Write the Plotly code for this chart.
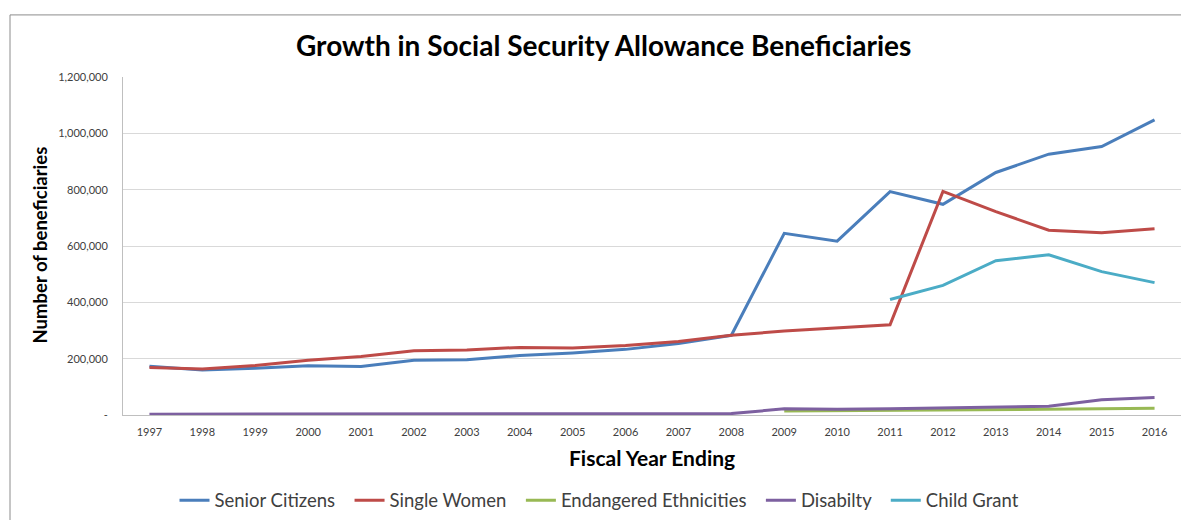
import plotly.graph_objects as go

years = list(range(1997, 2017))
senior_citizens = [173000, 160000, 166000, 175000, 172000, 194000, 196000, 211000, 220000, 233000,
                   254000, 283000, 645000, 617000, 793000, 748000, 861000, 926000, 953000, 1048000]
single_women = [169000, 163000, 176000, 194000, 208000, 228000, 231000, 240000, 238000, 247000,
                261000, 283000, 298000, 308000, 320000, 794000, 722000, 656000, 647000, 661000]
endangered_years = list(range(2009, 2017))
endangered_ethnicities = [14000, 15000, 17000, 18000, 19000, 20000, 22000, 24000]
disability = [3000, 3000, 3000, 3000, 3000, 3000, 3000, 3000, 3000, 4000,
              5000, 5000, 22000, 20000, 22000, 25000, 27000, 31000, 54000, 62000]
child_years = list(range(2011, 2017))
child_grant = [410000, 460000, 548000, 569000, 509000, 470000]

y_tickvals = [0, 200000, 400000, 600000, 800000, 1000000, 1200000]
y_ticktext = ["-", "200,000", "400,000", "600,000", "800,000", "1,000,000", "1,200,000"]

FONT = "Lato, Carlito, Calibri, sans-serif"
PAD = "\u00a0\u00a0"

fig = go.Figure()
series = [
    ("Senior Citizens", years, senior_citizens, "#4A7EBB"),
    ("Single Women", years, single_women, "#BE4B48"),
    ("Endangered Ethnicities", endangered_years, endangered_ethnicities, "#98B954"),
    ("Disabilty", years, disability, "#7D60A0"),
    ("Child Grant", child_years, child_grant, "#4BACC6"),
]
for name, xs, ys, color in series:
    fig.add_trace(go.Scatter(x=xs, y=ys, name=name + PAD, mode="lines",
                             line=dict(color=color, width=3)))

W, H = 1181, 520
L, T, R = 123, 77, 0
BOTTOM = 420
B = H - BOTTOM
pw = W - L - R
ph = H - T - B


def px(x):
    return (x - L) / pw


def py(y):
    return (BOTTOM - y) / ph


fig.update_layout(
    width=W, height=H,
    margin=dict(l=L, r=R, t=T, b=B, pad=0),
    paper_bgcolor="white", plot_bgcolor="white",
    font=dict(family=FONT, color="#404040"),
    showlegend=True,
    legend=dict(orientation="h", x=px(604), xanchor="center",
                y=py(507), yanchor="middle",
                font=dict(size=18.5, color="#404040", family=FONT),
                itemwidth=30, traceorder="normal"),
    xaxis=dict(range=[1996.5, 2016.5], tickmode="array", tickvals=years,
               ticktext=[str(y) for y in years], showgrid=False,
               showline=True, linecolor="#BFBFBF", linewidth=1,
               tickfont=dict(size=11, color="#404040", family=FONT),
               ticks="", ticklabelstandoff=7, zeroline=False),
    yaxis=dict(range=[0, 1200000], tickmode="array", tickvals=y_tickvals,
               ticktext=y_ticktext, showgrid=True, gridcolor="#D9D9D9", gridwidth=1,
               showline=True, linecolor="#BFBFBF", linewidth=1,
               tickfont=dict(size=11, color="#404040", family=FONT),
               ticks="", ticklabelstandoff=12, zeroline=False),
)

fig.add_annotation(text="<b>Growth in Social Security Allowance Beneficiaries</b>",
                   xref="paper", yref="paper", x=px(603), y=py(45),
                   xanchor="center", yanchor="middle", showarrow=False,
                   font=dict(size=28, color="#000000", family=FONT))
fig.add_annotation(text="<b>Fiscal Year Ending</b>",
                   xref="paper", yref="paper", x=px(652), y=py(463),
                   xanchor="center", yanchor="middle", showarrow=False,
                   font=dict(size=21, color="#000000", family=FONT))
fig.add_annotation(text="<b>Number of beneficiaries</b>",
                   xref="paper", yref="paper", x=px(40), y=py(248),
                   xanchor="center", yanchor="middle", showarrow=False, textangle=-90,
                   font=dict(size=18.5, color="#000000", family=FONT))

fig.add_shape(type="rect", xref="paper", yref="paper",
              x0=px(10), x1=1.05, y0=-0.6, y1=py(14),
              line=dict(color="#8C8C8C", width=1), fillcolor="rgba(0,0,0,0)", layer="below")

fig.write_html("out.html", config={"displayModeBar": False},
               post_script="document.body.style.margin='0';document.body.style.overflow='hidden';")
